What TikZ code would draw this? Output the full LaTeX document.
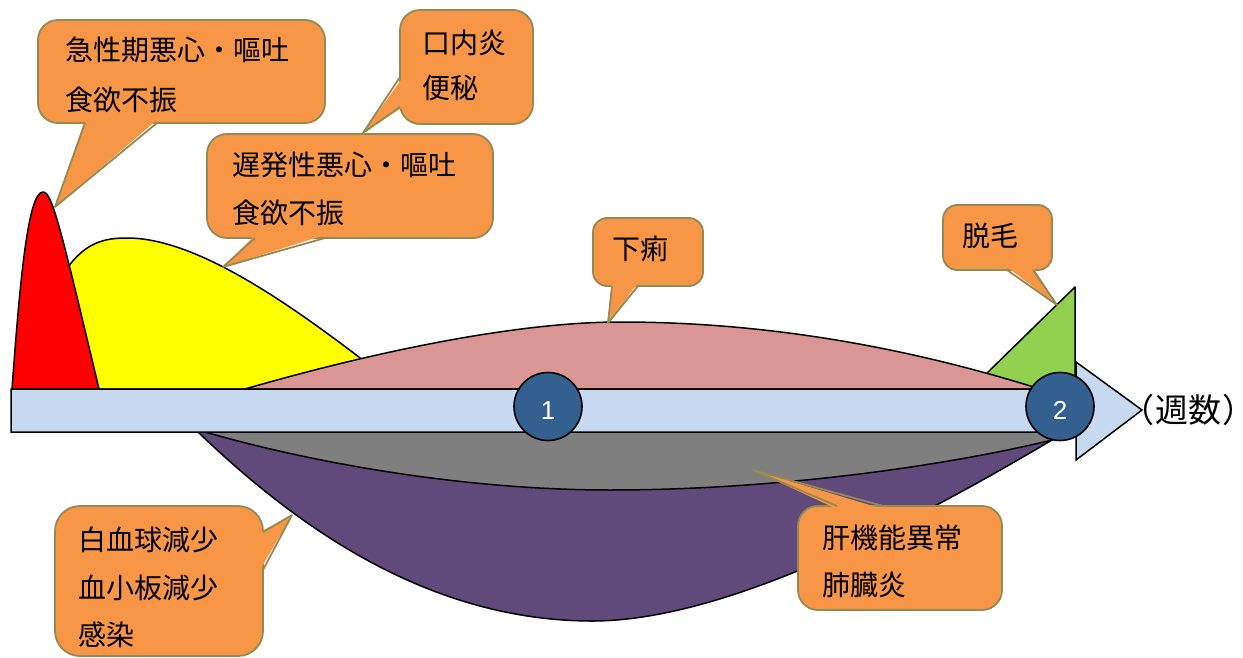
\documentclass[tikz,border=0pt]{standalone}
\usepackage{fontspec}
\setmainfont{Noto Sans CJK JP}
\newfontfamily\numfont{Liberation Sans}
\newfontfamily\paltfont{Noto Sans CJK JP}[RawFeature=+palt]
\definecolor{callfillc}{HTML}{F79646}
\definecolor{callline}{HTML}{948A54}
\definecolor{arrowc}{HTML}{C6D9F1}
\definecolor{redc}{HTML}{FF0000}
\definecolor{yellowc}{HTML}{FFFF00}
\definecolor{pinkc}{HTML}{D99694}
\definecolor{greenc}{HTML}{92D050}
\definecolor{grayc}{HTML}{7F7F7F}
\definecolor{purplec}{HTML}{604A7B}
\definecolor{circlec}{HTML}{34608F}
\begin{document}
\begin{tikzpicture}[x=1pt,y=-1pt,
  area/.style={draw=black,line width=1.5pt,line join=round},
  callbox/.style={fill=callfillc,draw=callline,line width=1.8pt},
  callptr/.style={fill=callfillc},
  calledge/.style={draw=callline,line width=1.8pt,line join=round},
  calltext/.style={anchor=west,inner sep=0pt,align=left,text=black},
  num/.style={circle,draw=black,line width=1.6pt,fill=circlec,minimum size=68pt,inner sep=0pt,text=white,text height=25.6pt,text depth=0pt,font=\numfont\fontsize{26}{26}\selectfont}]
\useasboundingbox (0,0) rectangle (1243,658);
% curves above the axis
\draw[area,fill=yellowc] (60,389) -- (66,270) .. controls (85,242) and (105,238) .. (127,238) .. controls (200,238) and (300,310) .. (400,389) -- cycle;
\draw[area,fill=redc] (12,389) .. controls (20,280) and (28,192) .. (43,192) .. controls (52,192) and (60,225) .. (99,389) -- cycle;
\draw[area,fill=greenc] (985,375) -- (1075,287) -- (1075,389) -- (1000,389) -- cycle;
\draw[area,fill=pinkc] (245,389) .. controls (380,350) and (520,322) .. (620,322) .. controls (760,322) and (900,345) .. (1040,389) -- cycle;
% curves below the axis
\draw[area,fill=purplec] (198,432) .. controls (300,530) and (430,620) .. (590,621) .. controls (720,622) and (900,530) .. (1052,440) -- (1058,432) -- cycle;
\draw[area,fill=grayc] (205,432) .. controls (320,465) and (470,490) .. (610,490) .. controls (780,490) and (950,465) .. (1052,440) -- (1058,432) -- cycle;
% axis arrow
\draw[area,line join=miter,fill=arrowc] (11,389) -- (1076,389) -- (1076,362) -- (1142,410) -- (1076,460) -- (1076,432) -- (11,432) -- cycle;
\node[num] (n1) at (548,406.5) {1};
\node[num] (n2) at (1060,406.5) {2};
\node[anchor=west,inner sep=0pt,font=\paltfont\fontsize{33}{33}\selectfont] (weeks) at (1137,410) {（\hspace{2pt}週数\hspace{2pt}）};
% callout 1
\draw[callbox,rounded corners=20] (38,20) rectangle (325,123);
\fill[callptr] (85,120) -- (55,207) -- (157,120) -- cycle;
\draw[calledge] (85,123) -- (55,207) -- (157,123);
\node[calltext,font=\fontsize{28}{50}\selectfont] (c1) at (65,75) {急性期悪心・嘔吐\\食欲不振};
% callout 2
\draw[callbox,rounded corners=20] (400,10) rectangle (533,124);
\fill[callptr] (403,77) -- (363,133) -- (403,107) -- cycle;
\draw[calledge] (400,77) -- (363,133) -- (400,107);
\node[calltext,font=\fontsize{28}{45}\selectfont] (c2) at (422,65.5) {口内炎\\便秘};
% callout 3
\draw[callbox,rounded corners=20] (207,134) rectangle (493,238);
\fill[callptr] (255,235) -- (223,267) -- (325,235) -- cycle;
\draw[calledge] (255,238) -- (223,267) -- (325,238);
\node[calltext,font=\fontsize{28}{48}\selectfont] (c3) at (232,189) {遅発性悪心・嘔吐\\食欲不振};
% callout 4
\draw[callbox,rounded corners=14] (593,218) rectangle (703,286);
\fill[callptr] (612,283) -- (608,323) -- (638,283) -- cycle;
\draw[calledge] (612,286) -- (608,323) -- (638,286);
\node[calltext,font=\fontsize{28}{28}\selectfont] (c4) at (612,249) {下痢};
% callout 5
\draw[callbox,rounded corners=14] (943,205) rectangle (1052,270);
\fill[callptr] (1007,267) -- (1057,305) -- (1033,267) -- cycle;
\draw[calledge] (1007,270) -- (1057,305) -- (1033,270);
\node[calltext,font=\fontsize{28}{28}\selectfont] (c5) at (962,236) {脱毛};
% callout 6
\draw[callbox,rounded corners=25] (55,506) rectangle (263,656);
\fill[callptr] (260,532) -- (292,515) -- (260,570) -- cycle;
\draw[calledge] (263,532) -- (292,515) -- (263,570);
\node[calltext,font=\fontsize{28}{47.5}\selectfont] (c6) at (78,587.5) {白血球減少\\血小板減少\\感染};
% callout 7
\draw[callbox,rounded corners=20] (798,506) rectangle (1002,610);
\fill[callptr] (837,509) -- (753,470) -- (883,509) -- cycle;
\draw[calledge] (837,506) -- (753,470) -- (883,506);
\node[calltext,font=\fontsize{28}{47}\selectfont] (c7) at (822,561.5) {肝機能異常\\肺臓炎};
\end{tikzpicture}
\end{document}
